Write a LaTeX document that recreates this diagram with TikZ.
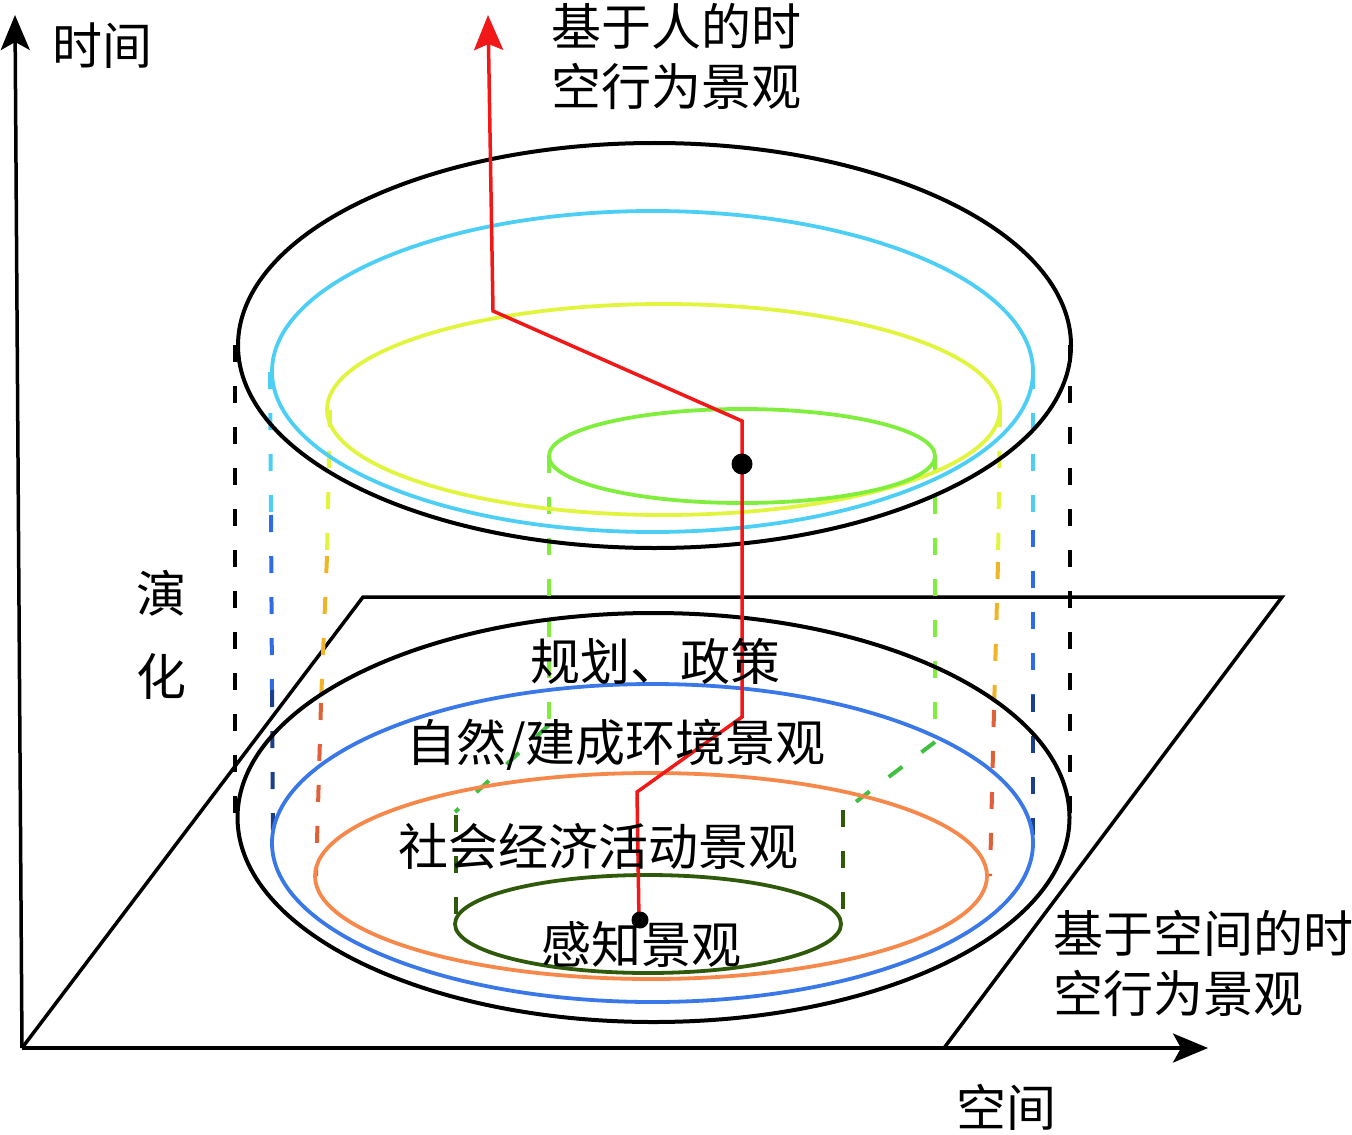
\documentclass[tikz,border=0pt]{standalone}
\usepackage{fontspec}
\newfontfamily\cjk{Noto Sans CJK SC}
\usetikzlibrary{arrows.meta}
\definecolor{cCyan}{HTML}{4DCFF5}
\definecolor{cBlue}{HTML}{3A78E8}
\definecolor{cDBlue}{HTML}{2E6BE6}
\definecolor{cNavy}{HTML}{1B3F8A}
\definecolor{cYel}{HTML}{E2F53E}
\definecolor{cGold}{HTML}{F0B428}
\definecolor{cRor}{HTML}{E0603A}
\definecolor{cOrange}{HTML}{F5884A}
\definecolor{cLgreen}{HTML}{80EE3C}
\definecolor{cMgreen}{HTML}{40C040}
\definecolor{cDgreen}{HTML}{2F5A0C}
\definecolor{cRed}{HTML}{F21818}
\begin{document}
\begin{tikzpicture}[x=0.5pt,y=-0.5pt,
  lbl/.style={font=\cjk\fontsize{25}{29.75}\selectfont, inner sep=0pt},
  dsh/.style={line width=2pt, dash pattern=on 8.5pt off 12pt},
  ell/.style={line width=1.9pt},
  blk/.style={line width=2pt},
  axis/.style={line width=1.75pt,-{Stealth[length=17.5pt,width=14.5pt,inset=4pt]}},
  ]
\useasboundingbox (0,0) rectangle (1352,1134);

% plane
\draw[line width=1.75pt] (22,1048) -- (363,597) -- (1282,597) -- (944,1048);

% axes
\coordinate (o) at (22,1048);
\coordinate (ty) at (15,15);
\coordinate (tx) at (1208,1048);
\draw[axis] (o) -- (ty);
\draw[axis] (o) -- (tx);

% dashed connectors
\draw[dsh,black] (235,345) -- (235,817);
\draw[dsh,black] (1070,345) -- (1070,817);

\draw[dsh,cCyan] (270,372) -- (271,515);
\draw[dsh,cDBlue] (271,515) -- (272,690);
\draw[dsh,cNavy] (272,690) -- (273,843);
\draw[dsh,cCyan] (1033,372) -- (1033,530);
\draw[dsh,cDBlue] (1033,530) -- (1033,695);
\draw[dsh,cNavy] (1033,695) -- (1033,843);

\draw[dsh,cYel] (330,410) -- (327,556);
\draw[dsh,cGold] (327,556) -- (321,703);
\draw[dsh,cRor] (321,703) -- (316,876);
\draw[dsh,cYel] (1000,410) -- (998,562);
\draw[dsh,cGold] (998,562) -- (994,710);
\draw[dsh,cRor] (994,710) -- (990,876);

\draw[dsh,cLgreen] (549,456) -- (549,725);
\draw[dsh,cMgreen] (549,725) -- (455,812);
\draw[dsh,cDgreen] (456,815) -- (456,924);
\draw[dsh,cLgreen] (935,456) -- (935,742);
\draw[dsh,cMgreen] (935,742) -- (845,810);
\draw[dsh,cDgreen] (843,810) -- (843,924);

% top layer ellipses
\draw[blk] (654.5,345.5) ellipse [x radius=416.5, y radius=202.5];
\draw[ell,cCyan] (652.5,371.5) ellipse [x radius=380.5, y radius=160.5];
\draw[ell,cYel] (663.5,409.5) ellipse [x radius=336.5, y radius=105.5];
\draw[ell,cLgreen] (742,456) ellipse [x radius=193, y radius=47];

% bottom layer ellipses
\draw[blk] (653.5,817.5) ellipse [x radius=416, y radius=204.5];
\draw[ell,cBlue] (652.5,843) ellipse [x radius=380.5, y radius=159];
\draw[ell,cOrange] (651,876) ellipse [x radius=336, y radius=103];
\draw[ell,cDgreen] (648,924) ellipse [x radius=193, y radius=49];

% red trajectory
\coordinate (r0) at (488,15);
\coordinate (r1) at (493,311);
\coordinate (r2) at (742,421);
\coordinate (r3) at (742,717);
\coordinate (r4) at (637,792);
\coordinate (r5) at (639,921);
\draw[cRed,line width=1.75pt,-{Stealth[length=17.5pt,width=14.5pt,inset=3pt]}]
  (r5) -- (r4) -- (r3) -- (r2) -- (r1) -- (r0);

\fill (742,464) circle [radius=10.5];
\fill (640,920) circle [radius=8.5];

% labels
\node[lbl] (tl) at (102,46) {时间};
\node[lbl, align=left, anchor=north west] (hl) at (551,3) {基于人的时\\空行为景观};
\node[lbl, font=\cjk\fontsize{25}{41.5}\selectfont, align=center, anchor=north] (ev) at (161,570) {演\\化};
\node[lbl] (p1) at (655,661) {规划、政策};
\node[lbl] (p2) at (616,745) {自然/建成环境景观};
\node[lbl] (p3) at (598,846) {社会经济活动景观};
\node[lbl] (p4) at (641,944) {感知景观};
\node[lbl, align=left, anchor=north west] (sl) at (1053,910) {基于空间的时\\空行为景观};
\node[lbl] (sp) at (1006,1107) {空间};
\end{tikzpicture}
\end{document}
